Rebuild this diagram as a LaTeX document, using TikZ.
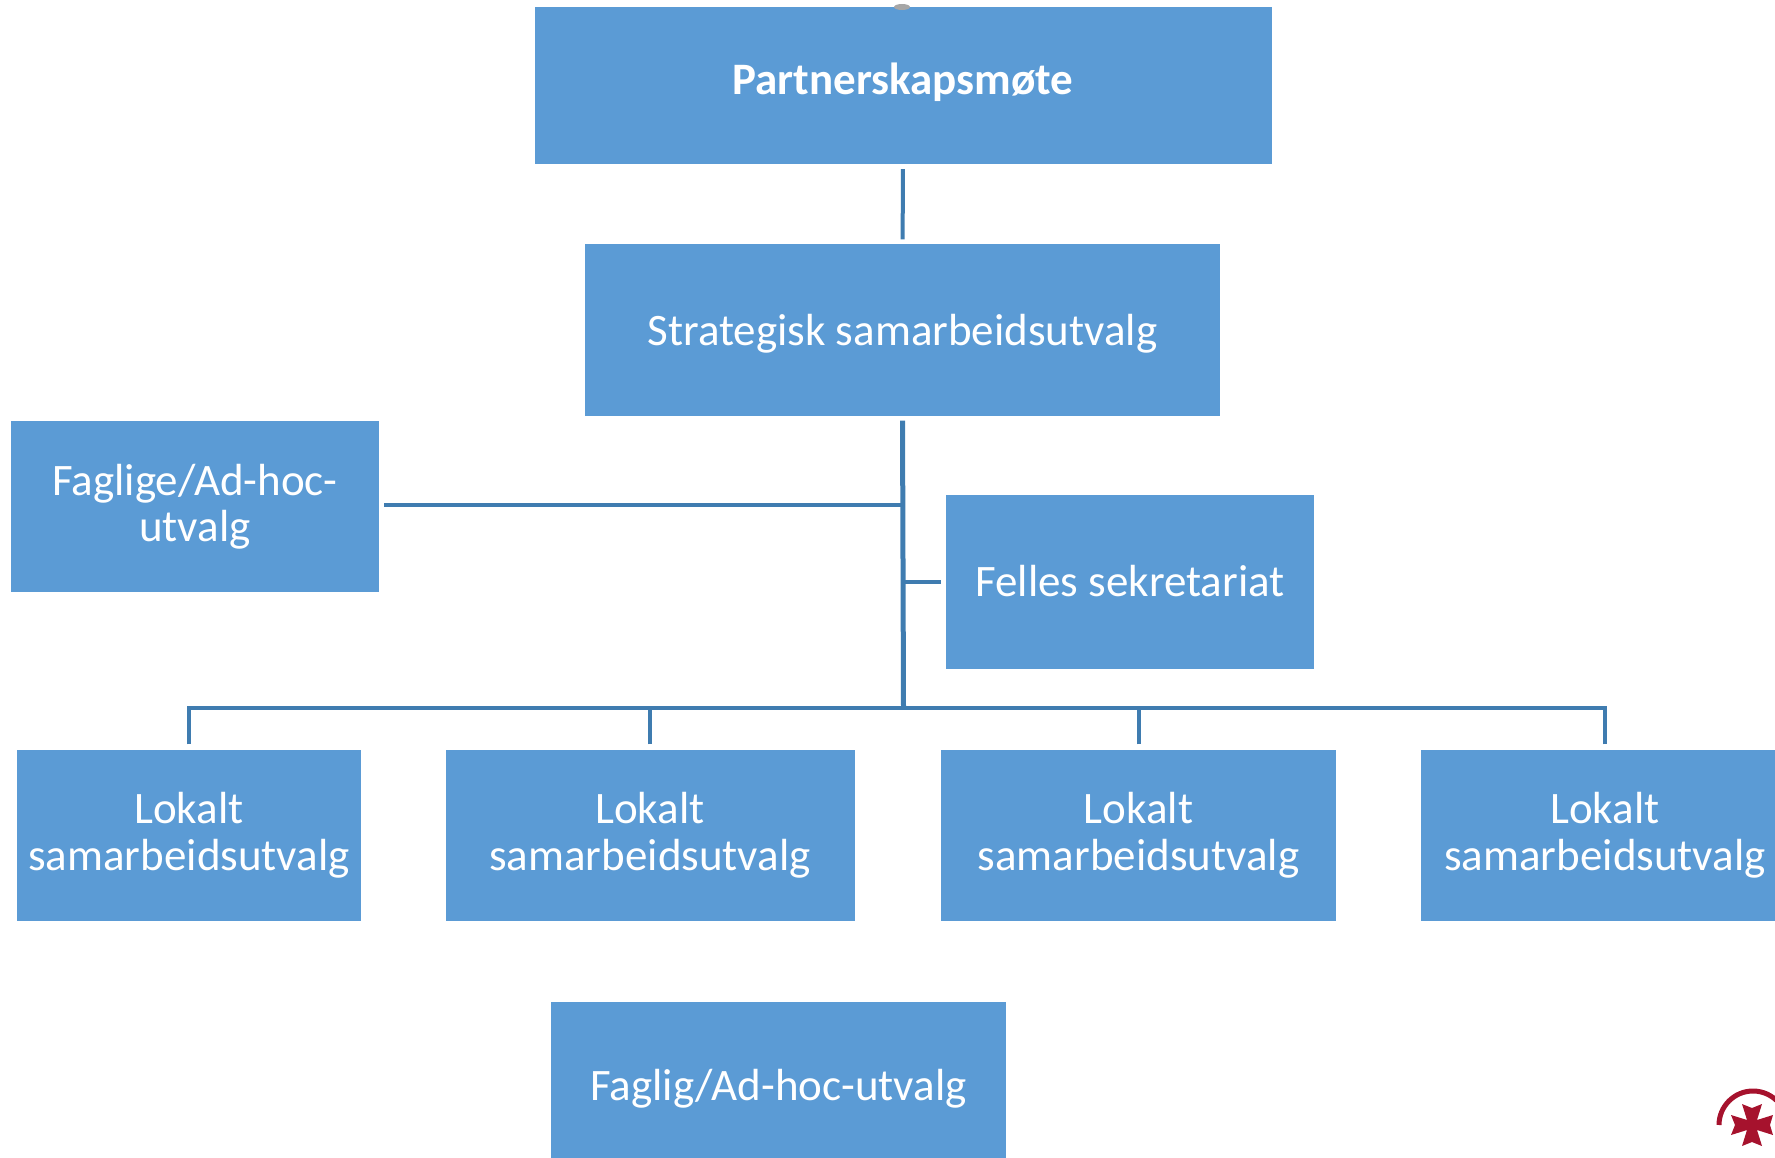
\documentclass[tikz,border=0pt]{standalone}
\usepackage{fontspec}
\setmainfont{Carlito}
\definecolor{boxblue}{HTML}{5B9BD5}
\definecolor{linkblue}{HTML}{3F7CB0}
\definecolor{logored}{HTML}{A6122D}
\newcommand{\moved}[2]{\raisebox{#1}[\height][\depth]{#2}}
\tikzset{
	box/.style={fill=boxblue,text=white,align=center,inner sep=0pt,font=\fontsize{45}{46.5}\selectfont},
	lokalt/.style={box,minimum height=171},
	link/.style={draw=linkblue,line width=4pt,shorten <=5pt},
}
\begin{document}
\begin{tikzpicture}[x=1pt,y=-1pt]
	\useasboundingbox (0,0) rectangle (1775,1158);

	\node[box,minimum width=737,minimum height=157,font=\fontsize{45}{46.5}\selectfont\bfseries] (partner) at (903,85.5) {\moved{3.5pt}{Partnerskapsm\o te}};
	\node[box,minimum width=635,minimum height=171] (strategisk) at (902.5,330) {\moved{-3.4pt}{Strategisk samarbeidsutvalg}};
	\node[box,minimum width=368,minimum height=171] (faglige) at (195,506.5) {Faglige/Ad-hoc-\\utvalg};
	\node[box,minimum width=368,minimum height=174] (felles) at (1130,582) {\moved{1pt}{Felles sekretariat}};

	\node[lokalt,minimum width=344] (lokaltA) at (189,835) {Lokalt\\samarbeidsutvalg};
	\node[lokalt,minimum width=409] (lokaltB) at (650,835) {Lokalt\\samarbeidsutvalg};
	\node[lokalt,minimum width=395] (lokaltC) at (1138.5,835) {Lokalt\\samarbeidsutvalg};
	\node[lokalt,minimum width=368] (lokaltD) at (1605,835) {Lokalt\\samarbeidsutvalg};

	\node[box,minimum width=455,minimum height=164] (fagligutvalg) at (778.5,1084) {\moved{-4.5pt}{Faglig/Ad-hoc-utvalg}};

	\coordinate (bus) at (903.5,708);

	\fill[gray!70] (902,7) ellipse (8 and 3);

	\draw[link,shorten >=5pt] (partner) -- (strategisk);
	\draw[link,line width=5pt] (strategisk.south) -- (bus);
	\draw[link] ([yshift=2pt]faglige.east) -- ([yshift=2pt]faglige.east -| bus);
	\draw[link] (felles.west) -- (felles.west -| bus);
	\draw[link,shorten <=0pt,line cap=rect] (bus -| lokaltA) -- (bus -| lokaltD);
	\foreach \n in {lokaltA,lokaltB,lokaltC,lokaltD} {
		\draw[link] (\n.north) -- (\n.north |- bus);
	}

	% logo
	\draw[logored,line width=5pt] (1719,1125) arc (180:320:34);
	\fill[logored] (1747,1120) -- (1742,1104) -- (1752,1108) -- (1762,1104) -- (1757,1120)
		-- (1773,1115) -- (1770,1125) -- (1773,1135) -- (1757,1130)
		-- (1762,1146) -- (1752,1142) -- (1742,1146) -- (1747,1130)
		-- (1731,1135) -- (1735,1125) -- (1731,1115) -- cycle;
\end{tikzpicture}
\end{document}
